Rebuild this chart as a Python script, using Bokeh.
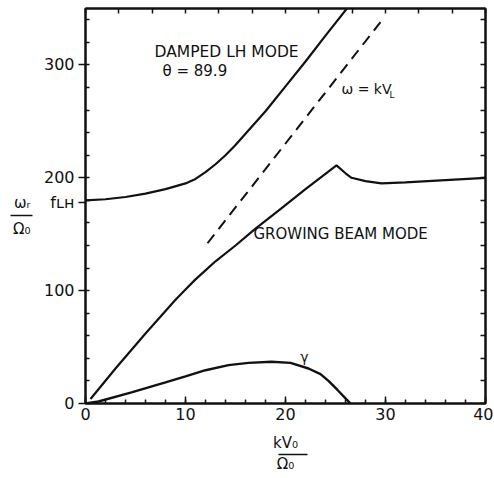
from bokeh.plotting import figure
from bokeh.models import Range1d, LinearAxis, FixedTicker, Label, CustomJSTickFormatter
from bokeh.embed import file_html
from bokeh.resources import INLINE

# ---- data ----
lh_x = [0, 2, 4, 6, 8, 10, 11, 12, 13, 14, 15, 16, 17, 18, 20, 22, 24, 26.5]
lh_y = [180, 181, 183, 186, 190, 195, 199, 205, 212, 220, 229, 239, 249, 259, 281, 303, 326, 354]

beam_x = [0.5, 3, 6, 9, 10, 11, 12, 13, 15, 17, 19.3, 22, 25.1, 26, 26.6, 28, 29.6, 32, 36, 40]
beam_y = [4, 31, 62, 92, 101, 110, 118, 126, 140, 155, 171, 190, 211, 204, 200, 197, 195, 196, 198, 200]

gamma_x = [0, 1.3, 4.6, 8, 10, 12, 14.3, 16.3, 18.6, 20.5, 22.3, 23.5, 24.3, 25.2, 26.1, 26.5]
gamma_y = [0, 1.8, 9.8, 18.7, 24, 29.5, 34, 36, 37, 36, 31, 26, 20, 12, 3.6, 0]

kvl_x = [12.2, 29.5]
kvl_y = [142, 338]

f_lh = 178
x_major = [0, 10, 20, 30, 40]
y_major = [0, 100, 200, 300]

FONT = "DejaVu Sans"
INK = "#111111"
W, H = 493, 477

p = figure(width=W, height=H, x_range=Range1d(0, 40), y_range=Range1d(0, 350),
           output_backend="svg", toolbar_location=None,
           min_border_left=85, min_border_right=8, min_border_top=8, min_border_bottom=74,
           x_axis_type=None, y_axis_type=None)
p.grid.visible = False
p.outline_line_color = INK
p.outline_line_width = 2
p.background_fill_color = "white"
p.border_fill_color = "white"

blank = CustomJSTickFormatter(code="return ''")


def yv(py):  # screen row -> y value (for label rows outside the frame)
    return round((404 - py) * 350.0 / 395.0, 3)


def xv(px):
    return round((px - 86) / 10.0, 3)


# ---- bottom axis with tick labels ----
xb = LinearAxis(ticker=FixedTicker(ticks=x_major, minor_ticks=list(range(0, 41, 2))))
xb.major_tick_in = 7; xb.major_tick_out = 0
xb.minor_tick_in = 4; xb.minor_tick_out = 0
xb.axis_line_width = 2; xb.axis_line_color = INK
xb.major_tick_line_color = INK; xb.minor_tick_line_color = INK
xb.major_tick_line_width = 1.5; xb.minor_tick_line_width = 1.5
xb.major_label_text_font = FONT; xb.major_label_text_font_size = "16px"
xb.major_label_text_color = INK; xb.major_label_standoff = 4
p.add_layout(xb, "below")

# x-axis title as a stacked fraction: numerator, bar, denominator
frac_x = (xv(279), xv(308))
xn = LinearAxis(ticker=FixedTicker(ticks=[]), bounds=frac_x, formatter=blank)
xn.axis_line_color = None
xn.major_label_standoff = 0
xn.axis_label = "kV₀"
xn.axis_label_text_font = FONT; xn.axis_label_text_font_size = "15px"
xn.axis_label_text_font_style = "normal"; xn.axis_label_text_color = INK
xn.axis_label_standoff = 11
p.add_layout(xn, "below")

xd = LinearAxis(ticker=FixedTicker(ticks=[]), bounds=frac_x, formatter=blank)
xd.axis_line_color = INK; xd.axis_line_width = 1.5
xd.major_label_standoff = 0
xd.axis_label = "Ω₀"
xd.axis_label_text_font = FONT; xd.axis_label_text_font_size = "15px"
xd.axis_label_text_font_style = "normal"; xd.axis_label_text_color = INK
xd.axis_label_standoff = 0
p.add_layout(xd, "below")

# ---- left axis with tick labels ----
yl = LinearAxis(ticker=FixedTicker(ticks=y_major + [f_lh], minor_ticks=list(range(0, 351, 20))))
yl.major_label_overrides = {f_lh: "fʟʜ"}
yl.major_tick_in = 0; yl.major_tick_out = 7
yl.minor_tick_in = 4; yl.minor_tick_out = 0
yl.axis_line_width = 2; yl.axis_line_color = INK
yl.major_tick_line_color = INK; yl.minor_tick_line_color = INK
yl.major_tick_line_width = 1.5; yl.minor_tick_line_width = 1.5
yl.major_label_text_font = FONT; yl.major_label_text_font_size = "16px"
yl.major_label_text_color = INK; yl.major_label_standoff = 4
yl.axis_label = "\u00a0"
yl.axis_label_text_font_size = "10px"
yl.axis_label_standoff = -6
p.add_layout(yl, "left")

# y-axis title as a stacked fraction on an outer axis
v_num, v_bar, v_den = yv(203), yv(216), yv(229)
yf = LinearAxis(ticker=FixedTicker(ticks=[v_num, v_den], minor_ticks=[v_bar]))
yf.major_label_overrides = {v_num: "ωᵣ", v_den: "Ω₀"}
yf.axis_line_color = None
yf.major_tick_in = 0; yf.major_tick_out = 0
yf.minor_tick_in = 0; yf.minor_tick_out = 22
yf.minor_tick_line_color = INK; yf.minor_tick_line_width = 1.5
yf.major_label_text_font = FONT; yf.major_label_text_font_size = "15px"
yf.major_label_text_color = INK; yf.major_label_standoff = -20
p.add_layout(yf, "left")

# ---- right axis (ticks only) ----
yr = LinearAxis(ticker=FixedTicker(ticks=list(range(0, 351, 20))), formatter=blank)
yr.major_tick_in = 5; yr.major_tick_out = 0
yr.major_label_standoff = 0
yr.axis_line_width = 2; yr.axis_line_color = INK
yr.major_tick_line_color = INK; yr.major_tick_line_width = 1.5
p.add_layout(yr, "right")

# ---- top axis (ticks only) ----
xt = LinearAxis(ticker=FixedTicker(ticks=[i * 10 / 3 for i in range(13)]), formatter=blank)
xt.major_tick_in = 5; xt.major_tick_out = 0
xt.major_label_standoff = 0
xt.axis_line_width = 2; xt.axis_line_color = INK
xt.major_tick_line_color = INK; xt.major_tick_line_width = 1.5
p.add_layout(xt, "above")

# ---- curves ----
p.line(lh_x, lh_y, line_color=INK, line_width=2.2)
p.line(beam_x, beam_y, line_color=INK, line_width=2.2)
p.line(gamma_x, gamma_y, line_color=INK, line_width=2.4)
p.line(kvl_x, kvl_y, line_color=INK, line_width=2, line_dash="11 7")


def lab(text, px, py, size, align="left", baseline="middle"):
    p.add_layout(Label(x=px - 1, y=py - 1, x_units="canvas", y_units="canvas", text=text,
                       text_font=FONT, text_font_size=f"{size}px", text_color=INK,
                       text_align=align, text_baseline=baseline))


# annotations inside the frame
lab("DAMPED LH MODE", 155, 52, 15.5)
lab("θ = 89.9", 163, 71, 15)
lab("ω = kV", 342, 89, 14)
lab("L", 390, 95, 9)
lab("GROWING BEAM MODE", 254, 234, 15)
lab("γ", 305, 357, 14, align="center")

open("out.html", "w").write(file_html(p, INLINE))
